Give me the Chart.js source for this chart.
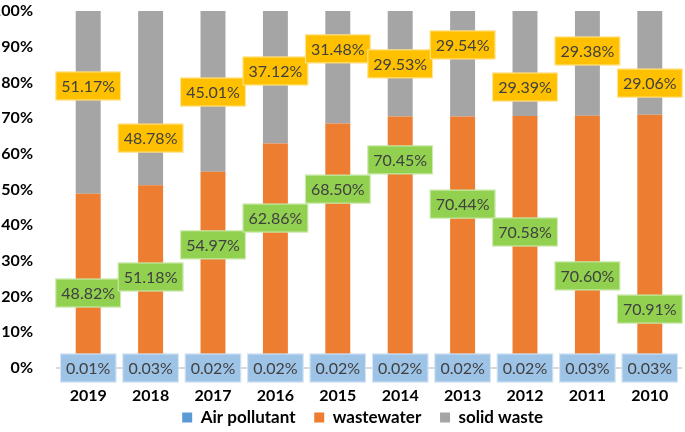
<!DOCTYPE html>
<html>
<head>
<meta charset="utf-8">
<script src="https://cdn.jsdelivr.net/npm/chart.js@4/dist/chart.umd.min.js"></script>
<style>
  html, body { margin: 0; padding: 0; background: #fff; }
  #wrap { width: 685px; height: 432px; }
</style>
</head>
<body>
<div id="wrap"><canvas id="shareChart"></canvas></div>
<script>
const years = ['2019', '2018', '2017', '2016', '2015', '2014', '2013', '2012', '2011', '2010']
const airPollutant = [0.01, 0.03, 0.02, 0.02, 0.02, 0.02, 0.02, 0.02, 0.03, 0.03]
const wastewater = [48.82, 51.18, 54.97, 62.86, 68.50, 70.45, 70.44, 70.58, 70.60, 70.91]
const solidWaste = [51.17, 48.78, 45.01, 37.12, 31.48, 29.53, 29.54, 29.39, 29.38, 29.06]
const yTicks = [0, 10, 20, 30, 40, 50, 60, 70, 80, 90, 100]

const airColor = '#5b9bd5'
const waterColor = '#ed7d31'
const solidColor = '#a5a5a5'
const fontName = 'Lato'

// where Excel left each callout box (in % of the axis)
const labelSpots = [
  { fill: '#9dc3e6', at: [0, 0, 0, 0, 0, 0, 0, 0, 0, 0] },
  { fill: '#92d050', at: [21, 25.5, 34.5, 42, 50.1, 58.3, 45.9, 38.1, 25.8, 16.5] },
  { fill: '#ffc000', at: [79, 64.4, 77.3, 83.2, 89.4, 85.2, 90.5, 78.7, 88.8, 79.8] }
]

const calloutPlugin = {
  id: 'callouts',
  afterDatasetsDraw(chart) {
    var ctx = chart.ctx
    var yScale = chart.scales.y
    ctx.save()
    ctx.font = '16px ' + fontName
    ctx.textAlign = 'center'
    ctx.textBaseline = 'middle'
    chart.data.datasets.forEach(function (ds, d) {
      var meta = chart.getDatasetMeta(d)
      var spot = labelSpots[d]
      meta.data.forEach(function (bar, i) {
        var text = ds.data[i].toFixed(2) + '%'
        var w = ctx.measureText(text).width + 12
        var h = 29
        var x = bar.x
        var y = yScale.getPixelForValue(spot.at[i])
        ctx.fillStyle = spot.fill
        ctx.fillRect(x - w / 2, y - h / 2, w, h)
        ctx.strokeStyle = 'rgba(255,255,255,0.6)'
        ctx.lineWidth = 1
        ctx.strokeRect(x - w / 2 + 0.5, y - h / 2 + 0.5, w - 1, h - 1)
        ctx.fillStyle = '#404040'
        ctx.fillText(text, x, y + 1)
      })
    })
    ctx.restore()
  }
}

var ctx = document.getElementById('shareChart')
new Chart(ctx, {
  type: 'bar',
  data: {
    labels: years,
    datasets: [{
      label: 'Air pollutant',
      data: airPollutant,
      backgroundColor: airColor,
      categoryPercentage: 1,
      barPercentage: 0.4
    }, {
      label: 'wastewater',
      data: wastewater,
      backgroundColor: waterColor,
      categoryPercentage: 1,
      barPercentage: 0.4
    }, {
      label: 'solid waste',
      data: solidWaste,
      backgroundColor: solidColor,
      categoryPercentage: 1,
      barPercentage: 0.4
    }]
  },
  options: {
    responsive: true,
    maintainAspectRatio: false,
    animation: false,
    layout: { padding: { top: 11, right: 4, left: 0, bottom: -4 } },
    plugins: {
      tooltip: { enabled: false },
      legend: {
        position: 'bottom',
        fullSize: false,
        labels: {
          boxWidth: 10,
          boxHeight: 10,
          padding: 6,
          color: '#000',
          font: { family: fontName, size: 17, weight: 'bold' },
          // wider gaps between entries without making the legend taller
          generateLabels: function (chart) {
            var items = Chart.defaults.plugins.legend.labels.generateLabels(chart)
            items.forEach(function (it) { it.text = it.text + '\u2003' })
            return items
          }
        }
      }
    },
    scales: {
      x: {
        stacked: true,
        afterFit: function (scale) { scale.height = 35 },
        grid: { display: false },
        border: { display: true, color: '#d9d9d9', width: 2 },
        ticks: {
          color: '#000',
          padding: 10,
          font: { family: fontName, size: 16, weight: 'bold' }
        }
      },
      y: {
        stacked: true,
        min: 0,
        max: 100,
        afterFit: function (scale) {
          scale.width = 57
          scale.paddingTop = 0
          scale.paddingBottom = 0
        },
        afterBuildTicks: function (scale) {
          scale.ticks = yTicks.map(function (v) { return { value: v } })
        },
        grid: { display: false },
        border: { display: false },
        ticks: {
          color: '#000',
          padding: 16,
          font: { family: fontName, size: 16, weight: 'bold' },
          callback: function (v) { return v + '%' }
        }
      }
    }
  },
  plugins: [calloutPlugin]
})
</script>
</body>
</html>
